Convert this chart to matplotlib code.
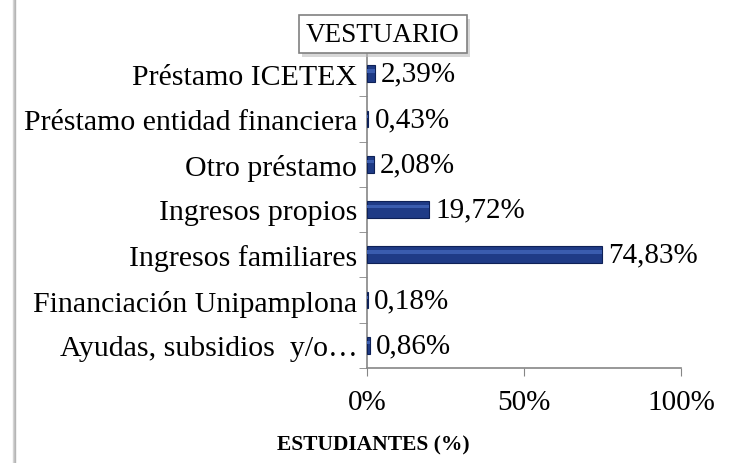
import numpy as np
import matplotlib.pyplot as plt
from matplotlib.ticker import FixedLocator
from matplotlib.patches import Rectangle

plt.rcParams['font.family'] = ['Liberation Serif', 'DejaVu Serif']

categorias = ['Ayudas, subsidios  y/o…', 'Financiación Unipamplona', 'Ingresos familiares',
              'Ingresos propios', 'Otro préstamo', 'Préstamo entidad financiera', 'Préstamo ICETEX']
valores = [0.86, 0.18, 74.83, 19.72, 2.08, 0.43, 2.39]
etiquetas = ['0,86%', '0,18%', '74,83%', '19,72%', '2,08%', '0,43%', '2,39%']
ticks_x = [0, 50, 100]
ticks_x_txt = ['0%', '50%', '100%']

fig = plt.figure(figsize=(7.35, 4.64), dpi=100)
ax = fig.add_axes([367/735, 1-369/464, (681-367)/735, (369-52)/464])

y = np.arange(len(categorias))
bars = ax.barh(y, valores, height=0.37, color='#1f3b86', edgecolor='#0e2157', linewidth=0.8, zorder=3)
# light stripe to hint the bevel
ax.barh(y + 0.06, valores, height=0.07, color='#3a5cae', linewidth=0, zorder=4)

for b, t in zip(bars, etiquetas):
    ax.text(b.get_width() + 2.0, b.get_y() + b.get_height()/2, t, va='center', ha='left', fontsize=21)

ax.set_xlim(0, 100)
ax.set_ylim(-0.5, len(categorias) - 0.5)
ax.set_xticks(ticks_x)
ax.set_xticklabels(ticks_x_txt, fontsize=21)
ax.set_yticks(y)
ax.set_yticklabels(categorias, fontsize=21.5)
ax.yaxis.set_minor_locator(FixedLocator(np.arange(-0.5, len(categorias), 1)))
ax.tick_params(axis='y', which='major', length=0, pad=7)
ax.tick_params(axis='y', which='minor', length=6, color='#868686', direction='out')
ax.tick_params(axis='x', length=6, color='#868686', pad=9)

for s in ['top', 'right']:
    ax.spines[s].set_visible(False)
for s in ['left', 'bottom']:
    ax.spines[s].set_color('#868686')
    ax.spines[s].set_linewidth(1.2)

fig.text(373/735, 1-445/464, 'ESTUDIANTES (%)', ha='center', va='center', fontsize=15.5,
         fontweight='bold')

# title box with shadow
titulo = fig.text(383/735, 1-35/464, 'VESTUARIO', ha='center', va='center', fontsize=19.5, zorder=5,
                  bbox=dict(boxstyle='square,pad=0.25', fc='white', ec='#808080', lw=1.2))
fig.canvas.draw()
bb = titulo.get_bbox_patch().get_window_extent().transformed(fig.transFigure.inverted())
fig.add_artist(Rectangle((bb.x0 + 3/735, bb.y0 - 4/464), bb.width, bb.height, transform=fig.transFigure,
                         fc='#bdbdbd', ec='none', alpha=0.6, zorder=4))

# left border shadow
for i, c in enumerate(['#d9d9d9', '#c4c4c4', '#b5b5b5']):
    fig.add_artist(plt.Line2D([(13 + i)/735, (13 + i)/735], [0, 1], color=c, lw=1, transform=fig.transFigure))

fig.savefig('out.png', dpi=100)
